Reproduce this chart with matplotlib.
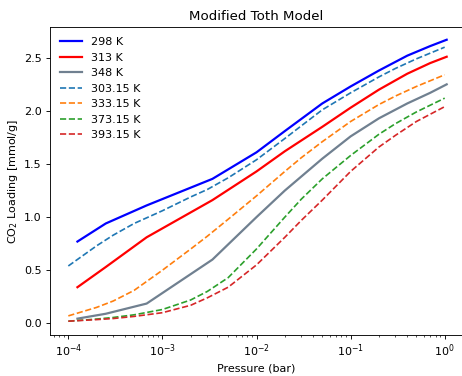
import numpy as np
import matplotlib
matplotlib.use("Agg")
import matplotlib.pyplot as plt

# experimental data (solid lines)
p_exp = [1.25e-4, 2.5e-4, 6.8e-4, 3.4e-3, 1e-2, 2e-2, 5e-2, 0.1, 0.2, 0.4, 0.7, 1.05]
q_298 = [0.77, 0.94, 1.11, 1.36, 1.61, 1.81, 2.07, 2.23, 2.38, 2.52, 2.61, 2.67]
q_313 = [0.34, 0.53, 0.81, 1.16, 1.43, 1.62, 1.85, 2.03, 2.20, 2.35, 2.45, 2.51]
q_348 = [0.044, 0.09, 0.186, 0.60, 1.00, 1.25, 1.55, 1.76, 1.93, 2.07, 2.17, 2.25]

# model predictions (dashed lines)
p_mod = [1e-4, 2e-4, 3e-4, 5e-4, 1e-3, 2e-3, 3e-3, 5e-3, 1e-2, 2e-2, 3e-2, 5e-2,
         0.1, 0.2, 0.3, 0.5, 1.0]
q_303 = [0.54, 0.73, 0.83, 0.94, 1.06, 1.19, 1.26, 1.37, 1.54, 1.74, 1.86, 2.01,
         2.17, 2.32, 2.40, 2.49, 2.60]
q_333 = [0.07, 0.15, 0.21, 0.31, 0.50, 0.70, 0.82, 0.98, 1.20, 1.43, 1.56, 1.71,
         1.90, 2.06, 2.14, 2.23, 2.34]
q_373 = [0.02, 0.04, 0.055, 0.08, 0.13, 0.22, 0.30, 0.43, 0.70, 1.00, 1.17, 1.36,
         1.58, 1.78, 1.88, 1.99, 2.12]
q_393 = [0.02, 0.035, 0.045, 0.065, 0.10, 0.17, 0.24, 0.34, 0.55, 0.81, 0.97, 1.16,
         1.43, 1.66, 1.77, 1.90, 2.04]

# smaller rendering scale to match reference text size
fig = plt.figure(figsize=(462 / 80, 376 / 80), dpi=80)
ax = fig.add_axes([49.5 / 462, 1 - 335 / 376, 414 / 462, 308 / 376])

ax.plot(p_exp, q_298, color='blue', lw=2, label='298 K')
ax.plot(p_exp, q_313, color='red', lw=2, label='313 K')
ax.plot(p_exp, q_348, color='slategray', lw=2, label='348 K')
ax.plot(p_mod, q_303, '--', color='C0', label='303.15 K')
ax.plot(p_mod, q_333, '--', color='C1', label='333.15 K')
ax.plot(p_mod, q_373, '--', color='C2', label='373.15 K')
ax.plot(p_mod, q_393, '--', color='C3', label='393.15 K')

ax.set_xscale('log')
ax.set_xlim(10**-4.2, 10**0.2)
ax.set_ylim(-0.11, 2.79)
ax.set_xlabel('Pressure (bar)')
ax.set_ylabel('CO$_2$ Loading [mmol/g]')
ax.set_title('Modified Toth Model')
ax.legend(loc='upper left', frameon=False)

fig.savefig('out.png', dpi=80)
